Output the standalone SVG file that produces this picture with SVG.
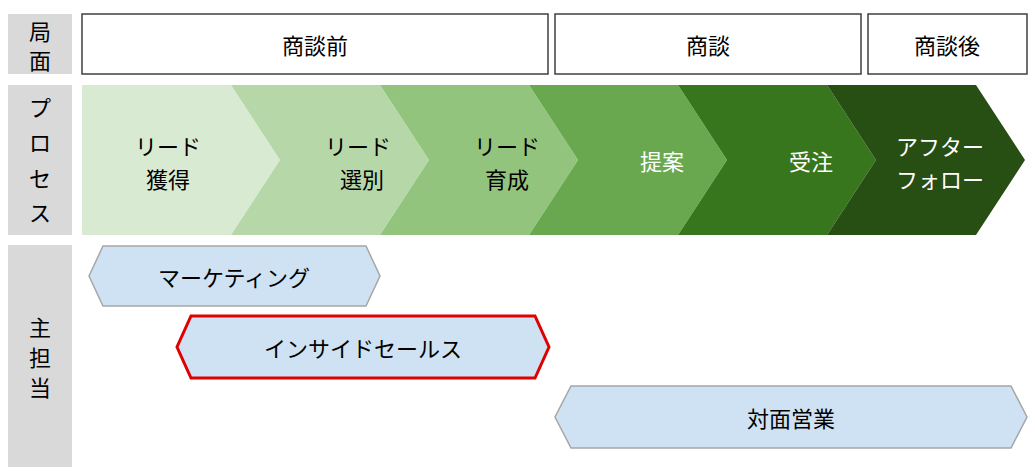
<svg xmlns="http://www.w3.org/2000/svg" width="1035" height="476" viewBox="0 0 1035 476">
<style>
text{font-family:"Noto Sans CJK JP","Liberation Sans",sans-serif;font-size:22px;text-anchor:middle;dominant-baseline:central}
.lab{fill:#d9d9d9}
.ph{fill:#fff;stroke:#404040;stroke-width:1.5}
.hx{fill:#cfe2f3;stroke:#a6a6a6;stroke-width:1.5}
.w{fill:#fff}
</style>
<rect width="1035" height="476" fill="#fff"/>
<g id="labels">
<rect class="lab" x="8" y="14" width="64" height="60"/>
<text x="40" y="30">局</text><text x="40" y="59">面</text>
<rect class="lab" x="8" y="85" width="64" height="150"/>
<text x="40" y="106">プ</text><text x="40" y="141">ロ</text><text x="40" y="177">セ</text><text x="40" y="211">ス</text>
<rect class="lab" x="8" y="245" width="64" height="222"/>
<text x="40" y="326">主</text><text x="40" y="356">担</text><text x="40" y="386">当</text>
</g>
<g id="phases">
<rect class="ph" x="82" y="14" width="466" height="60"/><text x="315" y="44">商談前</text>
<rect class="ph" x="555" y="14" width="306" height="60"/><text x="708" y="44">商談</text>
<rect class="ph" x="868" y="14" width="159" height="60"/><text x="947" y="44">商談後</text>
</g>
<g id="process">
<polygon fill="#d9ead3" points="82,85 231,85 280,160 231,235 82,235"/>
<polygon fill="#b6d7a8" points="231,85 380,85 429,160 380,235 231,235 280,160"/>
<polygon fill="#93c47d" points="380,85 529,85 578,160 529,235 380,235 429,160"/>
<polygon fill="#6aa84f" points="529,85 678,85 727,160 678,235 529,235 578,160"/>
<polygon fill="#38761d" points="678,85 827,85 876,160 827,235 678,235 727,160"/>
<polygon fill="#274e13" points="827,85 976,85 1025,160 976,235 827,235 876,160"/>
<text x="168" y="145">リード</text><text x="168" y="178">獲得</text>
<text x="358" y="145">リード</text><text x="362" y="178">選別</text>
<text x="507" y="145">リード</text><text x="507" y="178">育成</text>
<text class="w" x="662" y="160">提案</text>
<text class="w" x="811" y="160">受注</text>
<text class="w" x="940" y="145">アフター</text><text class="w" x="940" y="178">フォロー</text>
</g>
<g id="roles">
<polygon class="hx" points="103,246 366,246 380,276 366,306 103,306 89,276"/>
<text x="234" y="276">マーケティング</text>
<polygon points="191,316 535,316 549,347 535,378 191,378 177,347" fill="#cfe2f3" stroke="#e00000" stroke-width="3"/>
<text x="363" y="347">インサイドセールス</text>
<polygon class="hx" points="571,386 1011,386 1027,417 1011,448 571,448 555,417"/>
<text x="791" y="417">対面営業</text>
</g>
</svg>
